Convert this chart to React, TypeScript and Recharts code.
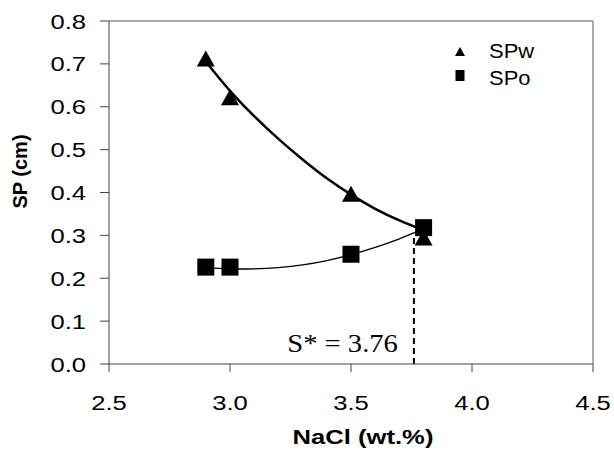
import {
  ComposedChart,
  Line,
  Scatter,
  XAxis,
  YAxis,
  ReferenceLine,
  Legend,
} from "recharts";

// measured points (NaCl wt.% vs spreading, cm)
const nacl = [2.9, 3.0, 3.5, 3.8];
const spwValues = [0.71, 0.62, 0.395, 0.293];
const spoValues = [0.226, 0.226, 0.256, 0.318];

// trend lines
const fitNacl = [2.9, 3.0, 3.1, 3.2, 3.3, 3.4, 3.5, 3.6, 3.7, 3.8];
const spwFitValues = [0.705, 0.637, 0.578, 0.525, 0.477, 0.433, 0.395, 0.362, 0.335, 0.312];
const spoFitValues = [0.225, 0.222, 0.222, 0.225, 0.231, 0.241, 0.255, 0.272, 0.292, 0.315];

const xTicks = [2.5, 3.0, 3.5, 4.0, 4.5];
const yTicks = [0, 0.1, 0.2, 0.3, 0.4, 0.5, 0.6, 0.7, 0.8];
const sStar = 3.76;
const sStarTop = 0.3;

const spw = nacl.map((x, i) => ({ x, y: spwValues[i] }));
const spo = nacl.map((x, i) => ({ x, y: spoValues[i] }));
const spwFit = fitNacl.map((x, i) => ({ x, y: spwFitValues[i] }));
const spoFit = fitNacl.map((x, i) => ({ x, y: spoFitValues[i] }));

const sans = "'Liberation Sans', Arial, sans-serif";
const axisColor = "#444";
const stretch = 1.22;

const XTick = (props: any) => {
  const { x, y, payload } = props;
  return (
    <text
      transform={`translate(${x},${y}) scale(${stretch},1)`}
      textAnchor="middle"
      dy="0.72em"
      fontFamily={sans}
      fontSize={21}
      fill="#000"
    >
      {Number(payload.value).toFixed(1)}
    </text>
  );
};

const YTick = (props: any) => {
  const { x, y, payload } = props;
  return (
    <text
      transform={`translate(${x},${y}) scale(${stretch},1)`}
      textAnchor="end"
      dy="0.36em"
      fontFamily={sans}
      fontSize={21}
      fill="#000"
    >
      {Number(payload.value).toFixed(1)}
    </text>
  );
};

const Triangle = (props: any) => {
  const { cx, cy } = props;
  return <polygon points={`${cx},${cy - 9} ${cx - 9},${cy + 7} ${cx + 9},${cy + 7}`} fill="#000" />;
};

const Square = (props: any) => {
  const { cx, cy } = props;
  return <rect x={cx - 8.5} y={cy - 8.5} width={17} height={17} fill="#000" />;
};

const LegendBox = () => (
  <svg width={100} height={60} style={{ display: "block" }}>
    <polygon points="8,9 3,18 13,18" fill="#000" />
    <text transform="translate(37,20) scale(1.1,1)" fontFamily={sans} fontSize={20} fill="#000">
      SPw
    </text>
    <rect x={3.5} y={32} width={9} height={11} fill="#000" />
    <text transform="translate(37,47) scale(1.1,1)" fontFamily={sans} fontSize={20} fill="#000">
      SPo
    </text>
  </svg>
);

export default function App() {
  return (
    <div style={{ position: "absolute", left: 0, top: 0, background: "#fff" }}>
      <ComposedChart width={614} height={454} margin={{ top: 21, right: 21, left: 0, bottom: 0 }}>
        <XAxis
          type="number"
          dataKey="x"
          domain={[2.5, 4.5]}
          ticks={xTicks}
          allowDataOverflow
          height={90}
          tickSize={8}
          tickMargin={23}
          stroke={axisColor}
          tick={(p: any) => <XTick {...p} />}
          label={{
            content: (p: any) => {
              const vb = p.viewBox;
              return (
                <text
                  transform={`translate(${vb.x + vb.width / 2 + 12},${vb.y + 80}) scale(1.28,1)`}
                  textAnchor="middle"
                  fontFamily={sans}
                  fontWeight="bold"
                  fontSize={20}
                  fill="#000"
                >
                  NaCl (wt.%)
                </text>
              );
            },
          }}
        />
        <YAxis
          type="number"
          dataKey="y"
          domain={[0, 0.8]}
          ticks={yTicks}
          allowDataOverflow
          width={109}
          tickSize={9}
          tickMargin={14}
          stroke={axisColor}
          tick={(p: any) => <YTick {...p} />}
          label={{
            content: (p: any) => {
              const vb = p.viewBox;
              return (
                <text
                  transform={`translate(26.5,${vb.y + vb.height / 2 - 21}) rotate(-90)`}
                  textAnchor="middle"
                  fontFamily={sans}
                  fontWeight="bold"
                  fontSize={20}
                  fill="#000"
                >
                  SP (cm)
                </text>
              );
            },
          }}
        />
        <ReferenceLine y={0.8} stroke="#555" strokeWidth={1.2} />
        <ReferenceLine x={4.5} stroke="#777" strokeWidth={1.2} />
        <ReferenceLine
          segment={[
            { x: sStar, y: 0 },
            { x: sStar, y: sStarTop },
          ]}
          stroke="#000"
          strokeWidth={2}
          strokeDasharray="6 4"
          label={{
            content: (p: any) => {
              const vb = p.viewBox;
              return (
                <text
                  transform={`translate(${vb.x - 16},${vb.y + vb.height - 12}) scale(1.1,1)`}
                  textAnchor="end"
                  fontFamily="'Liberation Serif', 'Times New Roman', serif"
                  fontSize={26}
                  fill="#000"
                >
                  S* = 3.76
                </text>
              );
            },
          }}
        />
        <Line
          data={spwFit}
          dataKey="y"
          type="natural"
          stroke="#000"
          strokeWidth={2.5}
          dot={false}
          activeDot={false}
          legendType="none"
          isAnimationActive={false}
        />
        <Line
          data={spoFit}
          dataKey="y"
          type="natural"
          stroke="#000"
          strokeWidth={1.3}
          dot={false}
          activeDot={false}
          legendType="none"
          isAnimationActive={false}
        />
        <Scatter name="SPw" data={spw} shape={<Triangle />} isAnimationActive={false} />
        <Scatter name="SPo" data={spo} shape={<Square />} isAnimationActive={false} />
        <Legend
          layout="vertical"
          align="center"
          verticalAlign="middle"
          wrapperStyle={{ position: "absolute", top: 38, left: 452, width: 100 }}
          content={() => <LegendBox />}
        />
      </ComposedChart>
    </div>
  );
}
